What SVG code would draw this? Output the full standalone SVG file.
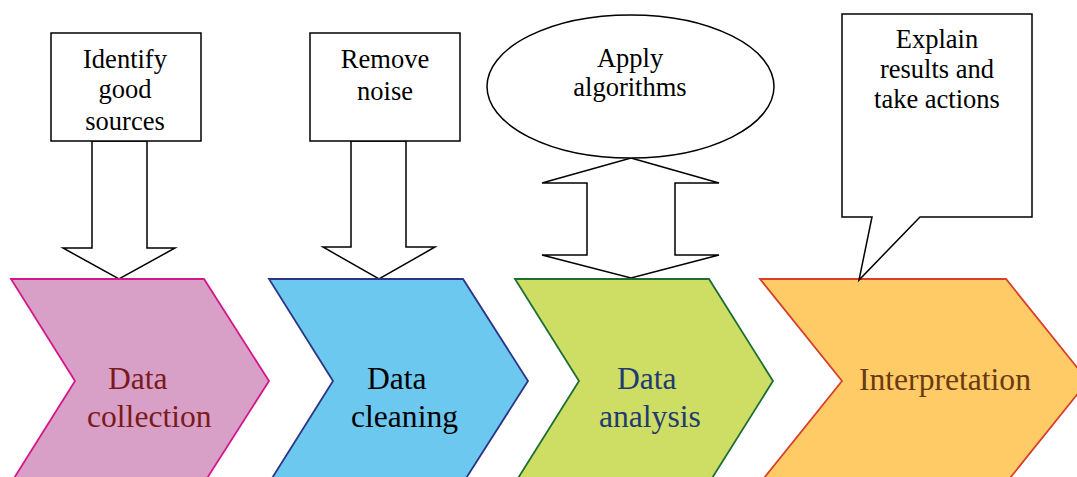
<svg xmlns="http://www.w3.org/2000/svg" width="1077" height="477" viewBox="0 0 1077 477">
<style>
.box{fill:#fff;stroke:#000;stroke-width:1.5}
.arr{fill:#fff;stroke:#000;stroke-width:1.5;stroke-linejoin:miter}
.t{font-family:"Liberation Serif","Times New Roman",serif;font-size:26.5px;fill:#000;text-anchor:middle}
.c{font-family:"Liberation Serif","Times New Roman",serif;font-size:31.6px}
</style>
<rect width="1077" height="477" fill="#fff"/>
<g id="connectors">
<polygon class="arr" points="92,141 92,248 63,248 119,279 175,248 147,248 147,141"/>
<polygon class="arr" points="351,141 351,247 323,247 379,279 435,247 406,247 406,141"/>
<polygon class="arr" points="631,158 719,183 675,183 675,255 719,255 631,278 542,255 587,255 587,183 542,183"/>
</g>
<g id="chevron-collection">
<polygon points="11,279 204,279 269,381 204,483 11,483 75,381" fill="#D8A0C7" stroke="#D4168C" stroke-width="1.8"/>
<text class="c" x="108" y="389" fill="#7A1A1C">Data</text>
<text class="c" x="87" y="427" fill="#7A1A1C">collection</text>
</g>
<g id="chevron-cleaning">
<polygon points="269,279 463,279 528,381 463,483 269,483 333,381" fill="#6DC8F0" stroke="#2B3586" stroke-width="1.8"/>
<text class="c" x="367" y="389" fill="#000">Data</text>
<text class="c" x="351" y="427" fill="#000">cleaning</text>
</g>
<g id="chevron-analysis">
<polygon points="515,279 709,279 773,381 709,483 515,483 579,381" fill="#CEDD63" stroke="#1E6E34" stroke-width="1.8"/>
<text class="c" x="617" y="389" fill="#1F3B73">Data</text>
<text class="c" x="599" y="427" fill="#1F3B73">analysis</text>
</g>
<g id="chevron-interpretation">
<polygon points="760,279 1006,279 1088,381 1006,483 760,483 842,381" fill="#FECB66" stroke="#D8402B" stroke-width="1.8"/>
<text class="c" x="859" y="390" fill="#6A3A12">Interpretation</text>
</g>
<g id="box-identify">
<rect class="box" x="51" y="33" width="150" height="108"/>
<text class="t" x="125" y="68">Identify</text>
<text class="t" x="125" y="98">good</text>
<text class="t" x="125" y="130">sources</text>
</g>
<g id="box-remove">
<rect class="box" x="310" y="33" width="150" height="108"/>
<text class="t" x="385" y="68">Remove</text>
<text class="t" x="385" y="100">noise</text>
</g>
<g id="ellipse-apply">
<ellipse class="box" cx="630.5" cy="86.5" rx="143.5" ry="71.5"/>
<text class="t" x="630" y="67">Apply</text>
<text class="t" x="630" y="96">algorithms</text>
</g>
<g id="bubble-explain">
<path class="box" d="M842,14 H1032 V217 H920 L859,280 L872,217 H842 Z"/>
<text class="t" x="937" y="48">Explain</text>
<text class="t" x="937" y="78">results and</text>
<text class="t" x="937" y="108">take actions</text>
</g>
</svg>
